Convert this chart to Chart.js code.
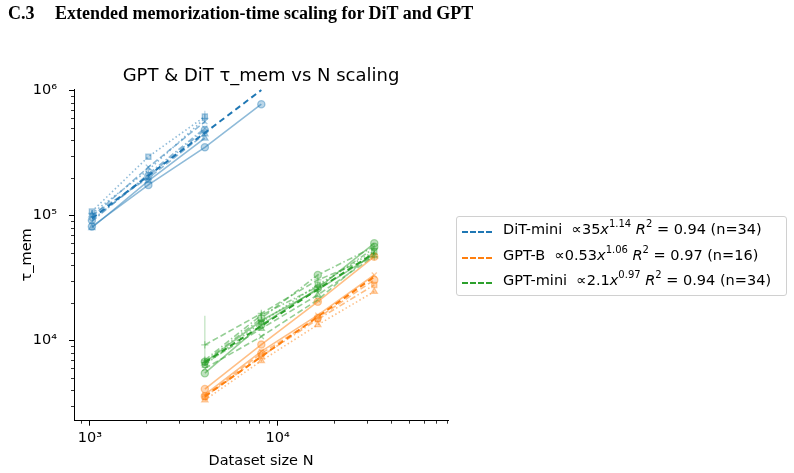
<!DOCTYPE html>
<html>
<head>
<meta charset="utf-8">
<script src="https://cdn.jsdelivr.net/npm/chart.js@4.4.1/dist/chart.umd.min.js"></script>
<style>
  html, body { margin:0; padding:0; background:#fff; }
  #wrap { position:relative; width:794px; height:473px; overflow:hidden; }
  #c { position:absolute; left:0; top:0; }
  .hdr { position:absolute; top:3px; font-family:"Liberation Serif","Times New Roman",serif; font-weight:bold; font-size:18px; color:#000; white-space:nowrap; }
  #title { position:absolute; left:61px; width:400px; top:64px; text-align:center; font-family:"DejaVu Sans",sans-serif; font-size:18px; color:#000; white-space:nowrap; }
  #legend { position:absolute; left:456px; top:216px; width:329px; height:78px; border:1px solid #d0d0d0; border-radius:3px; background:rgba(255,255,255,0.8); font-family:"DejaVu Sans",sans-serif; font-size:14.5px; color:#000; }
  .row { position:absolute; left:0; height:20px; white-space:nowrap; }
  .swatch { position:absolute; left:5px; top:10px; width:30px; height:0; border-top:2px dashed; }
  .txt { position:absolute; left:46px; top:0px; }
  .txt sup { font-size:10px; vertical-align:7px; line-height:0; }
  .txt i { font-style:italic; }
</style>
</head>
<body>
<div id="wrap">
  <canvas id="c" width="794" height="473"></canvas>
  <div class="hdr" style="left:8px;">C.3</div>
  <div class="hdr" style="left:55px;">Extended memorization-time scaling for DiT and GPT</div>
  <div id="title">GPT &amp; DiT τ_mem vs N scaling</div>
  <div id="legend"></div>
</div>
<script>
// ---------------- data ----------------
const N_DIT = [1024, 2048, 4096, 8192];
const N_GPT = [4096, 8192, 16384, 32768];

// DiT-mini runs (tau_mem at N_DIT)
const dit_run1 = [81700, 176000, 352000, 778000];
const dit_run2 = [80000, 190000, 416000];
const dit_run3 = [98000, 244000, 565000];
const dit_run4 = [108000, 296000, 620000];
const dit_run5 = [104000, 232000, 600000];
const dit_run6 = [92000, 208000, 484000];
const dit_run7 = [101000, 200000, 450000];
const dit_run8 = [89800, 215000, 500000];

// GPT-B runs (tau_mem at N_GPT)
const gptb_run1 = [3700, 8200, 16000, 33500];
const gptb_run2 = [4100, 9300, 20500, 47000];
const gptb_run3 = [3350, 6900, 13400, 24700];
const gptb_run4 = [3550, 7500, 14800, 27900];
const gptb_run5 = [3600, 7900, 15200, 30600];

// GPT-mini runs (tau_mem at N_GPT)
const gptm_run1 = [9240, 16500, 30600, 47000];
const gptm_run2 = [5490, 13400, 26200, 60100];
const gptm_run3 = [6000, 10800, 21200, 51500];
const gptm_run4 = [6790, 15100, 33500, 56500];
const gptm_run5 = [6400, 14000, 28000, 52000];
const gptm_run6 = [6600, 12500, 23200, 47500];
const gptm_run7 = [7000, 16000, 27000, 55000];
const gptm_run8 = [6700, 14500, 25500, 49000];

// error bars [N, low, high]
const err_gptm = [4096, 6500, 15800];
const err_dit = [4096, 540000, 690000];

// power-law fit endpoints
const fit_dit_x = [1024, 8192],  fit_dit_y = [95000, 1010000];
const fit_gptb_x = [4096, 32768], fit_gptb_y = [3580, 32400];
const fit_gptm_x = [4096, 32768], fit_gptm_y = [6700, 50300];

// axis ticks
const xTicks = [900, 1000, 2000, 3000, 4000, 5000, 6000, 7000, 8000, 9000,
                10000, 20000, 30000, 40000, 50000, 60000, 70000, 80000];
const yTicks = [3000, 4000, 5000, 6000, 7000, 8000, 9000,
                10000, 20000, 30000, 40000, 50000, 60000, 70000, 80000, 90000,
                100000, 200000, 300000, 400000, 500000, 600000, 700000, 800000, 900000, 1000000];
const majorLabels = {1000:'10³', 10000:'10⁴', 100000:'10⁵', 1000000:'10⁶'};

const legendItems = [
  {color:'#1f77b4', html:'DiT-mini &nbsp;∝35<i>x</i><sup>1.14</sup> <i>R</i><sup>2</sup> = 0.94 (n=34)'},
  {color:'#ff7f0e', html:'GPT-B &nbsp;∝0.53<i>x</i><sup>1.06</sup> <i>R</i><sup>2</sup> = 0.97 (n=16)'},
  {color:'#2ca02c', html:'GPT-mini &nbsp;∝2.1<i>x</i><sup>0.97</sup> <i>R</i><sup>2</sup> = 0.94 (n=34)'}
];

// ---------------- styling helpers ----------------
const BLUE = [31,119,180], ORANGE = [255,127,14], GREEN = [44,160,44];
const rgba = (c, a) => `rgba(${c[0]},${c[1]},${c[2]},${a})`;
const DASH = {solid:[], dashed:[6,3], dotted:[1.5,2.5], dashdot:[6,2.5,1.5,2.5]};
const pts = (xs, ys) => ys.map((y, i) => ({x: xs[i], y: y}));

function run(xs, ys, col, style, marker) {
  return {
    type:'line', data: pts(xs, ys),
    borderColor: rgba(col, 0.5), backgroundColor: rgba(col, 0.3),
    borderWidth: 1.6, borderDash: DASH[style],
    pointStyle: marker, pointRadius: 3.6,
    pointBackgroundColor: rgba(col, 0.3), pointBorderColor: rgba(col, 0.4),
    pointBorderWidth: 1.3, fill:false, tension:0, order: 5
  };
}
function fit(xs, ys, col) {
  return {
    type:'line', data: pts(xs, ys), borderColor: rgba(col, 1), borderWidth: 2,
    borderDash:[6,4], pointRadius:0, fill:false, order: 1
  };
}
function errbar(e, col) {
  return {
    type:'line', data:[{x:e[0], y:e[1]}, {x:e[0], y:e[2]}],
    borderColor: rgba(col, 0.3), borderWidth: 1.2, pointRadius:0, fill:false, order: 6
  };
}

const datasets = [
  fit(fit_dit_x, fit_dit_y, BLUE),
  fit(fit_gptb_x, fit_gptb_y, ORANGE),
  fit(fit_gptm_x, fit_gptm_y, GREEN),
  run(N_DIT, dit_run1, BLUE, 'solid', 'circle'),
  run(N_DIT, dit_run2, BLUE, 'solid', 'triangle'),
  run(N_DIT, dit_run3, BLUE, 'dashed', 'crossRot'),
  run(N_DIT, dit_run4, BLUE, 'dotted', 'rect'),
  run(N_DIT, dit_run5, BLUE, 'dotted', 'cross'),
  run(N_DIT, dit_run6, BLUE, 'dashdot', 'circle'),
  run(N_DIT, dit_run7, BLUE, 'dashed', 'triangle'),
  run(N_DIT, dit_run8, BLUE, 'dashdot', 'crossRot'),
  run(N_GPT, gptb_run1, ORANGE, 'solid', 'crossRot'),
  run(N_GPT, gptb_run2, ORANGE, 'solid', 'circle'),
  run(N_GPT, gptb_run3, ORANGE, 'dotted', 'triangle'),
  run(N_GPT, gptb_run4, ORANGE, 'dashdot', 'rect'),
  run(N_GPT, gptb_run5, ORANGE, 'dashed', 'circle'),
  run(N_GPT, gptm_run1, GREEN, 'dashed', 'cross'),
  run(N_GPT, gptm_run2, GREEN, 'solid', 'circle'),
  run(N_GPT, gptm_run3, GREEN, 'dashed', 'crossRot'),
  run(N_GPT, gptm_run4, GREEN, 'dashdot', 'circle'),
  run(N_GPT, gptm_run5, GREEN, 'dotted', 'rect'),
  run(N_GPT, gptm_run6, GREEN, 'dashed', 'triangle'),
  run(N_GPT, gptm_run7, GREEN, 'dashdot', 'cross'),
  run(N_GPT, gptm_run8, GREEN, 'solid', 'cross'),
  errbar(err_gptm, GREEN),
  errbar(err_dit, BLUE)
];

const isMajor = v => majorLabels[v] !== undefined;

const minorTicks = {
  id:'minorTicks',
  afterDraw(chart) {
    const ctx = chart.ctx, xs = chart.scales.x, ys = chart.scales.y, a = chart.chartArea;
    ctx.save(); ctx.strokeStyle = '#000'; ctx.lineWidth = 0.8;
    xs.ticks.forEach(t => { if (!isMajor(t.value)) { const p = Math.round(xs.getPixelForValue(t.value)) + 0.5;
      ctx.beginPath(); ctx.moveTo(p, a.bottom); ctx.lineTo(p, a.bottom + 3); ctx.stroke(); } });
    ys.ticks.forEach(t => { if (!isMajor(t.value)) { const p = Math.round(ys.getPixelForValue(t.value)) + 0.5;
      ctx.beginPath(); ctx.moveTo(a.left, p); ctx.lineTo(a.left - 3, p); ctx.stroke(); } });
    ctx.restore();
  }
};

const FONT = "'DejaVu Sans', sans-serif";
new Chart(document.getElementById('c'), {
  type:'line',
  data:{ datasets },
  options:{
    responsive:false, animation:false,
    layout:{ padding:{ left:0, right:346, top:89, bottom:0 } },
    plugins:{ legend:{ display:false }, tooltip:{ enabled:false }, title:{ display:false } },
    scales:{
      x:{
        type:'logarithmic', min:822, max:81000,
        afterBuildTicks: s => { s.ticks = xTicks.map(v => ({value:v, major:isMajor(v)})); },
        afterFit: s => { s.height = 52.3; },
        grid:{ display:true, drawOnChartArea:false, drawTicks:true, tickLength:5,
               tickColor: c => (c.tick && isMajor(c.tick.value)) ? '#000' : 'rgba(0,0,0,0)' },
        border:{ display:true, color:'#000', width:1 },
        ticks:{ autoSkip:false, maxRotation:0, color:'#000', padding:4,
                font:{ family:FONT, size:14.5 }, callback: v => majorLabels[v] || '' },
        title:{ display:true, text:'Dataset size N', color:'#000', font:{ family:FONT, size:14.5 },
                padding:{ top:0, bottom:3 } }
      },
      y:{
        type:'logarithmic', min:2290, max:1030000,
        afterBuildTicks: s => { s.ticks = yTicks.map(v => ({value:v, major:isMajor(v)})); },
        afterFit: s => { s.width = 74; },
        grid:{ display:true, drawOnChartArea:false, drawTicks:true, tickLength:5,
               tickColor: c => (c.tick && isMajor(c.tick.value)) ? '#000' : 'rgba(0,0,0,0)' },
        border:{ display:true, color:'#000', width:1 },
        ticks:{ autoSkip:false, color:'#000', padding:12,
                font:{ family:FONT, size:14.5 }, callback: v => majorLabels[v] || '' },
        title:{ display:true, text:'τ_mem', color:'#000', font:{ family:FONT, size:14.5 },
                padding:{ top:19, bottom:0 } }
      }
    }
  },
  plugins:[minorTicks]
});

// HTML legend
const lg = document.getElementById('legend');
legendItems.forEach((it, i) => {
  const r = document.createElement('div');
  r.className = 'row'; r.style.top = (4 + i * 25.5) + 'px';
  r.innerHTML = `<div class="swatch" style="border-color:${it.color}"></div><div class="txt">${it.html}</div>`;
  lg.appendChild(r);
});
</script>
</body>
</html>
